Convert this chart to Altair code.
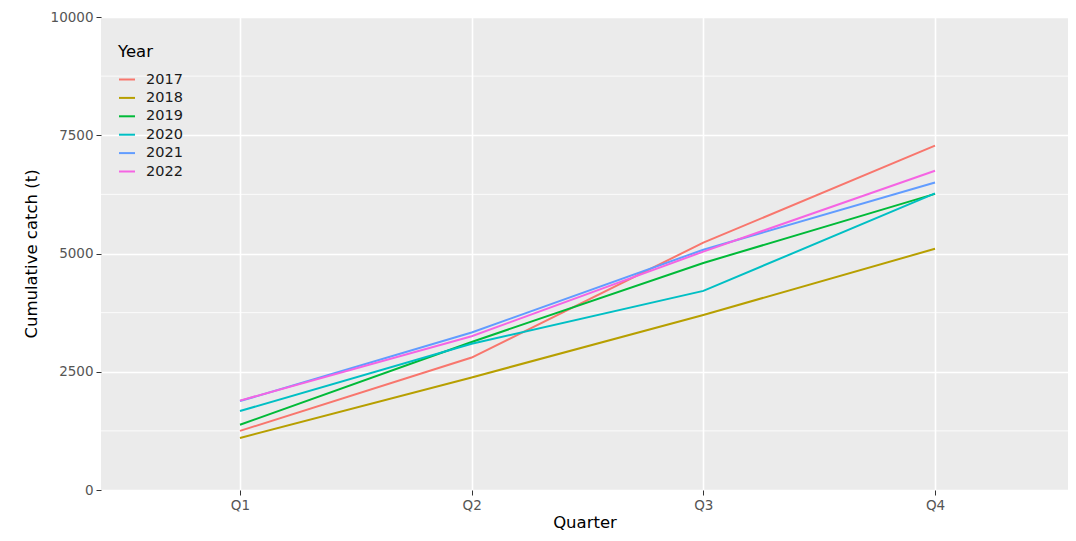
import altair as alt
import pandas as pd

quarters = ["Q1", "Q2", "Q3", "Q4"]
years = ["2017", "2018", "2019", "2020", "2021", "2022"]
c2017 = [1250, 2800, 5230, 7280]
c2018 = [1100, 2380, 3700, 5100]
c2019 = [1380, 3130, 4800, 6260]
c2020 = [1670, 3090, 4210, 6270]
c2021 = [1880, 3330, 5080, 6500]
c2022 = [1890, 3250, 5040, 6750]
colors = ["#F8766D", "#B79F00", "#00BA38", "#00BFC4", "#619CFF", "#F564E3"]
major_breaks = [0, 2500, 5000, 7500, 10000]
minor_breaks = [1250, 3750, 6250, 8750]

series = [c2017, c2018, c2019, c2020, c2021, c2022]
rows = []
for yr, vals in zip(years, series):
    for q, v in zip(quarters, vals):
        rows.append({"Quarter": q, "Catch": v, "Year": yr})
df = pd.DataFrame(rows)
minor_df = pd.DataFrame({"Catch": minor_breaks})

FONT = "DejaVu Sans"

xenc = alt.X(
    "Quarter:N",
    sort=quarters,
    scale=alt.Scale(type="point", padding=0.587, align=0.511),
    axis=alt.Axis(title="Quarter", labelAngle=0, labelPadding=3, titlePadding=3),
)
yenc = alt.Y(
    "Catch:Q",
    scale=alt.Scale(domain=[0, 10000], nice=False, zero=True),
    axis=alt.Axis(title="Cumulative catch (t)", values=major_breaks, format="d",
                  labelPadding=3, titlePadding=11),
)

minor = alt.Chart(minor_df).mark_rule(color="white", strokeWidth=0.8).encode(y=alt.Y("Catch:Q"))

lines = alt.Chart(df).mark_line(strokeWidth=2).encode(
    x=xenc,
    y=yenc,
    color=alt.Color(
        "Year:N",
        sort=years,
        scale=alt.Scale(domain=years, range=colors),
        legend=alt.Legend(title="Year"),
    ),
    detail="Year:N",
)

chart = (
    alt.layer(minor, lines)
    .properties(
        width=967,
        height=473,
        autosize=alt.AutoSizeParams(type="none"),
        padding={"left": 93, "top": 9, "right": 0, "bottom": 50},
        background="white",
    )
    .configure_view(fill="#EBEBEB", strokeWidth=0)
    .configure_axis(
        domain=False,
        grid=True,
        gridColor="white",
        gridWidth=1.6,
        tickColor="#333333",
        tickSize=5,
        tickWidth=1,
        labelColor="#555555",
        labelFont=FONT,
        labelFontSize=13.5,
        titleFont=FONT,
        titleFontSize=16.5,
        titleFontWeight="normal",
        titleColor="#000000",
    )
    .configure_legend(
        orient="none",
        legendX=17,
        legendY=27,
        padding=0,
        titleFont=FONT,
        titleFontSize=16.5,
        titleFontWeight="normal",
        titleColor="#000000",
        titlePadding=10,
        labelFont=FONT,
        labelFontSize=14.5,
        labelColor="#1A1A1A",
        labelOffset=10,
        symbolType="stroke",
        symbolSize=256,
        symbolStrokeWidth=2,
        rowPadding=2.4,
    )
)

chart.save("out.html", embed_options={"renderer": "svg", "actions": False})
